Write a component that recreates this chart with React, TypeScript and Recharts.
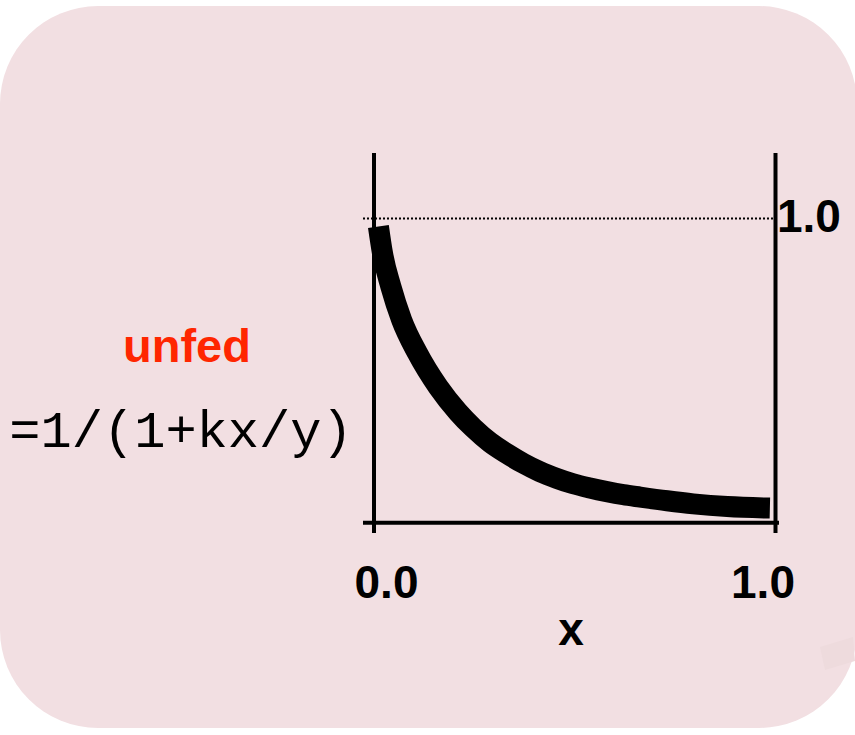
import React from "react";
import { LineChart, Line, XAxis, YAxis, ReferenceLine } from "recharts";

const xValues = [0.011, 0.021, 0.042, 0.069, 0.108, 0.16, 0.209, 0.247, 0.289, 0.331, 0.372, 0.413, 0.455, 0.496, 0.538, 0.58, 0.621, 0.663, 0.73, 0.795, 0.88, 0.986];
const yValues = [0.974, 0.887, 0.776, 0.666, 0.558, 0.446, 0.364, 0.312, 0.264, 0.227, 0.195, 0.168, 0.146, 0.128, 0.114, 0.102, 0.092, 0.084, 0.072, 0.062, 0.053, 0.048];
const xTicks = [0, 1];
const yTicks = [1];
const xTickLabels = ["0.0", "1.0"];
const yTickLabels = ["1.0"];
const seriesName = "unfed";
const formula = "=1/(1+kx/y)";
const xAxisTitle = "x";

const data = xValues.map((x, i) => ({ x, y: yValues[i] }));

const BG = "#f2dfe2";
const LABEL_FONT = "'Liberation Sans', Arial, Helvetica, sans-serif";

const XTick = (props: any) => {
  const { x, y, payload, index } = props;
  const i = xTicks.indexOf(payload.value);
  const shift = i === 0 ? 12.5 : -12.5;
  return (
    <text x={x + shift} y={y + 65} textAnchor="middle" fontFamily={LABEL_FONT} fontWeight="bold" fontSize={46} fill="#000">
      {xTickLabels[i >= 0 ? i : index]}
    </text>
  );
};

const YTick = (props: any) => {
  const { x, y, payload, index } = props;
  const i = yTicks.indexOf(payload.value);
  return (
    <text x={x - 2} y={y + 14} textAnchor="start" fontFamily={LABEL_FONT} fontWeight="bold" fontSize={46} fill="#000">
      {yTickLabels[i >= 0 ? i : index]}
    </text>
  );
};

const XTitle = (props: any) => {
  const vb = props.viewBox || {};
  return (
    <text x={vb.x + vb.width / 2} y={vb.y + 112} textAnchor="middle" fontFamily={LABEL_FONT} fontWeight="bold" fontSize={46} fill="#000">
      {xAxisTitle}
    </text>
  );
};

export default function App() {
  return (
    <div style={{ position: "absolute", left: 0, top: 0, width: 855, height: 735, overflow: "hidden" }}>
      <svg width={855} height={735} style={{ position: "absolute", left: 0, top: 0 }}>
        <rect x={0} y={6} width={857} height={722} rx={98} ry={98} fill={BG} />
        <polygon points="820,647 853,637 855,661 825,670" fill="#eedbdd" />
      </svg>
      <div style={{ position: "absolute", left: 0, top: 0 }}>
        <LineChart width={855} height={735} data={data} margin={{ top: 153, right: 6, bottom: 82, left: 363 }}>
          <XAxis
            type="number"
            dataKey="x"
            domain={[-0.0274, 1.0087]}
            allowDataOverflow
            ticks={xTicks}
            axisLine={false}
            tickLine={false}
            tickSize={0}
            tickMargin={0}
            height={120}
            tick={<XTick />}
            label={{ content: <XTitle /> }}
          />
          <YAxis
            type="number"
            orientation="right"
            domain={[-0.0339, 1.2153]}
            allowDataOverflow
            ticks={yTicks}
            axisLine={false}
            tickLine={false}
            tickSize={0}
            tickMargin={0}
            width={70}
            tick={<YTick />}
          />
          <ReferenceLine
            segment={[{ x: -0.0274, y: 1 }, { x: 1, y: 1 }]}
            stroke="#000"
            strokeWidth={2}
            strokeDasharray="2 2"
          />
          <ReferenceLine x={0} stroke="#000" strokeWidth={4} />
          <ReferenceLine x={1} stroke="#000" strokeWidth={4} />
          <ReferenceLine y={0} stroke="#000" strokeWidth={4} />
          <Line
            type="monotone"
            dataKey="y"
            stroke="#000"
            strokeWidth={21}
            strokeLinecap="butt"
            strokeLinejoin="round"
            dot={false}
            activeDot={false}
            isAnimationActive={false}
          />
        </LineChart>
      </div>
      <svg width={855} height={735} style={{ position: "absolute", left: 0, top: 0, pointerEvents: "none" }}>
        <text x={187} y={362} textAnchor="middle" fontFamily={LABEL_FONT} fontWeight="bold" fontSize={47} fill="#ff2600">
          {seriesName}
        </text>
        <text x={181} y={447} textAnchor="middle" fontFamily="'Liberation Mono', 'DejaVu Sans Mono', monospace" fontSize={52} fill="#000">
          {formula}
        </text>
      </svg>
    </div>
  );
}
